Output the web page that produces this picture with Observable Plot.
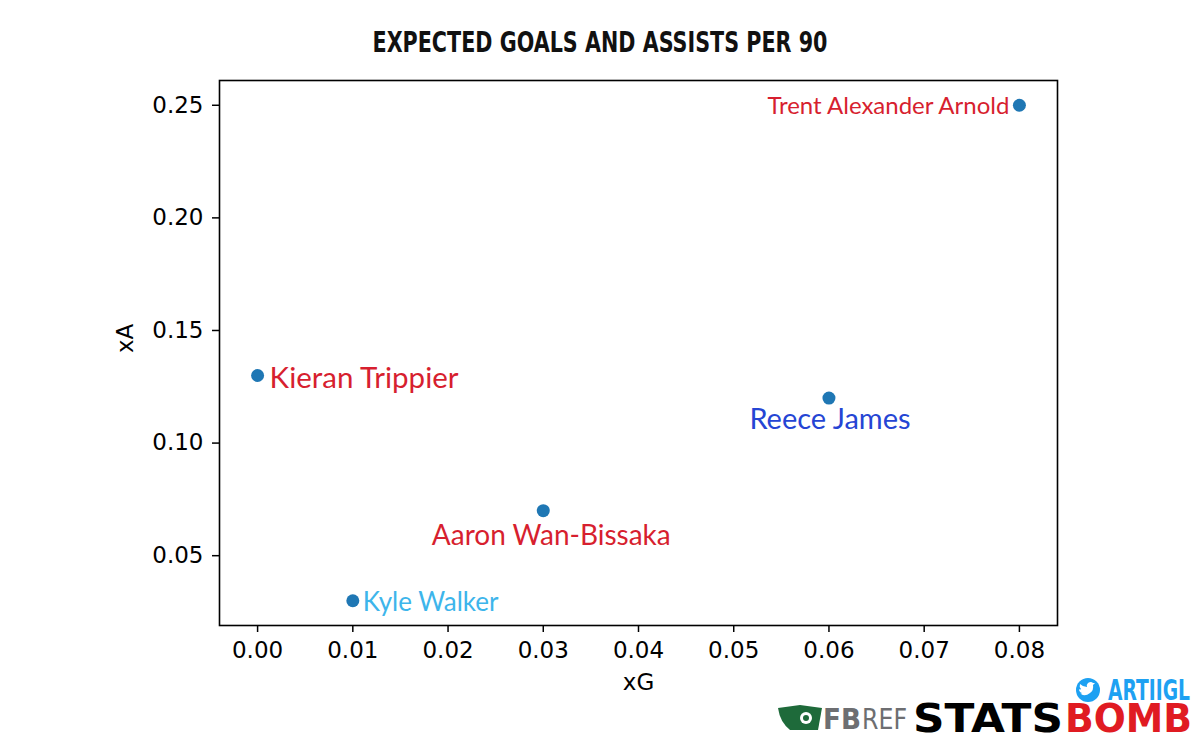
<!DOCTYPE html>
<html>
<head>
<meta charset="utf-8">
<script src="https://cdn.jsdelivr.net/npm/d3@7"></script>
<script src="https://cdn.jsdelivr.net/npm/@observablehq/plot@0.6"></script>
<style>
  html, body { margin: 0; padding: 0; background: #fff; }
  #wrap { position: relative; width: 1200px; height: 750px; overflow: hidden; }
  #title { display: block; }
  #logos { position: absolute; left: 0; top: 0; pointer-events: none; }
</style>
</head>
<body>
<div id="wrap">
  <svg id="title" width="1200" height="70">
    <text x="600" y="52" text-anchor="middle" font-family="DejaVu Sans, sans-serif" font-weight="bold" font-size="28" fill="#111" textLength="455" lengthAdjust="spacingAndGlyphs">EXPECTED GOALS AND ASSISTS PER 90</text>
  </svg>
  <div id="chart"></div>
  <svg id="logos" width="1200" height="750">
    <circle cx="1088" cy="690" r="12" fill="#1da1f2"></circle>
    <path d="M1081,694 q4,3 9,-1 q4,-3 3,-8 l2,-2 l-2,0 q-2,-2 -5,0 q-2,2 -1,4 q-4,0 -7,-3 q-1,3 1,5 q-1,1 -2,0 q0,3 3,4 q-1,1 -2,1 z" fill="#fff"></path>
    <text transform="translate(1108,700) scale(1,1.5)" x="0" y="0" font-family="DejaVu Sans, sans-serif" font-weight="bold" font-size="19" fill="#1da1f2" textLength="82" lengthAdjust="spacingAndGlyphs">ARTIIGL</text>
    <path d="M778,708 L800,705 L822,708 L818,730 L790,730 Q780,722 778,708 Z" fill="#1e6a3a"></path>
    <circle cx="806" cy="718" r="6" fill="#fff"></circle>
    <circle cx="806" cy="718" r="3" fill="#1e6a3a"></circle>
    <text x="823" y="729" font-family="DejaVu Sans, sans-serif" font-weight="bold" font-size="29" fill="#6d6e71" textLength="38" lengthAdjust="spacingAndGlyphs">FB</text>
    <text x="862" y="729" font-family="DejaVu Sans, sans-serif" font-size="29" fill="#6d6e71" textLength="45" lengthAdjust="spacingAndGlyphs">REF</text>
    <text x="913" y="732" font-family="DejaVu Sans, sans-serif" font-weight="bold" font-size="39" fill="#000" textLength="150" lengthAdjust="spacingAndGlyphs">STATS</text>
    <text x="1065" y="732" font-family="DejaVu Sans, sans-serif" font-weight="bold" font-size="39" fill="#e01b22" textLength="127" lengthAdjust="spacingAndGlyphs">BOMB</text>
  </svg>
</div>
<script>
// ---- data ----
const players = ["Trent Alexander Arnold", "Kieran Trippier", "Reece James", "Aaron Wan-Bissaka", "Kyle Walker"];
const xG = [0.08, 0.00, 0.06, 0.03, 0.01];
const xA = [0.25, 0.13, 0.12, 0.07, 0.03];
const labelColors = ["#d71f2f", "#d71f2f", "#2545d4", "#d71f2f", "#3db5eb"];
const xTicks = [0.00, 0.01, 0.02, 0.03, 0.04, 0.05, 0.06, 0.07, 0.08];
const yTicks = [0.05, 0.10, 0.15, 0.20, 0.25];

// ---- label styling (not data) ----
const labelStyle = [
  {anchor: "end",    dx: -10, dy: 1,  size: 24},
  {anchor: "start",  dx: 12,  dy: 3,  size: 29.5},
  {anchor: "middle", dx: 1,   dy: 22, size: 29},
  {anchor: "middle", dx: 8,   dy: 25, size: 28},
  {anchor: "start",  dx: 10,  dy: 2,  size: 26}
];

const rows = players.map((p, i) => ({player: p, xG: xG[i], xA: xA[i]}));

const labelMarks = rows.map((r, i) => Plot.text([r], {
  x: "xG", y: "xA", text: "player",
  fill: labelColors[i],
  textAnchor: labelStyle[i].anchor,
  dx: labelStyle[i].dx, dy: labelStyle[i].dy,
  fontSize: labelStyle[i].size,
  fontFamily: "Lato, 'Open Sans', sans-serif"
}));

const fmt = d3.format(".2f");

const chart = Plot.plot({
  width: 1200,
  height: 680,
  marginLeft: 219,
  marginRight: 143,
  marginTop: 10,
  marginBottom: 125,
  style: {fontFamily: "'DejaVu Sans', sans-serif", fontSize: "23px", color: "#000", background: "transparent"},
  x: {domain: [-0.004, 0.084], label: null},
  y: {domain: [0.019, 0.261], label: null},
  marks: [
    Plot.frame({stroke: "#000", strokeWidth: 1.6}),
    Plot.axisX({ticks: xTicks, tickFormat: fmt, tickSize: 7, tickPadding: 9, fontSize: 23, stroke: "#000", strokeWidth: 1.5, label: null}),
    Plot.axisY({ticks: yTicks, tickFormat: fmt, tickSize: 7, tickPadding: 9, fontSize: 23, stroke: "#000", strokeWidth: 1.5, label: null}),
    Plot.text(["xG"], {frameAnchor: "bottom", dy: 64, fontSize: 23, fill: "#000"}),
    Plot.text(["xA"], {frameAnchor: "left", dx: -94, rotate: -90, fontSize: 23, fill: "#000"}),
    Plot.dot(rows, {x: "xG", y: "xA", r: 6.5, fill: "#1f77b4", stroke: "none"}),
    ...labelMarks
  ]
});
document.getElementById("chart").appendChild(chart);
</script>
</body>
</html>
